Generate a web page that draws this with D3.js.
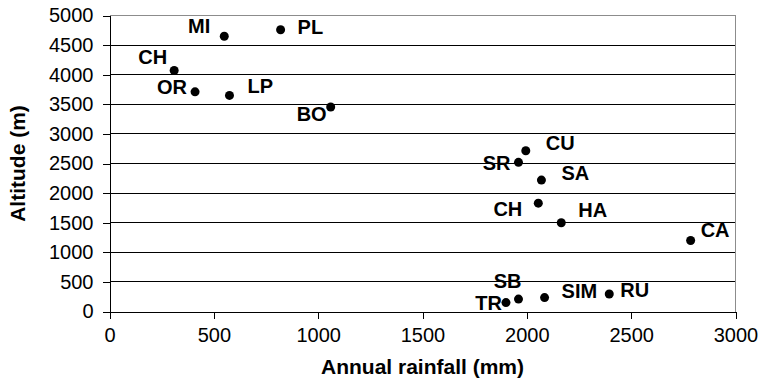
<!DOCTYPE html>
<html>
<head>
<meta charset="utf-8">
<script src="https://cdn.jsdelivr.net/npm/d3@7"></script>
<style>
  body { margin: 0; background: #fff; }
  svg text { font-family: Arial, "Liberation Sans", sans-serif; fill: #000; }
  .tick text { font-size: 20px; }
  .ptLabel { font-size: 20px; font-weight: bold; }
  .axisTitle { font-size: 21px; font-weight: bold; }
</style>
</head>
<body>
<div class="chart"></div>
<script>
// site codes, rainfall (mm) and altitude (m)
var sites = ["MI", "PL", "CH", "OR", "LP", "BO", "CU", "SR", "SA", "CH", "HA", "CA", "SB", "TR", "SIM", "RU"];
var rainfall = [550, 820, 310, 410, 575, 1060, 1995, 1960, 2070, 2055, 2165, 2785, 1960, 1900, 2085, 2395];
var altitude = [4650, 4760, 4070, 3710, 3650, 3455, 2715, 2520, 2220, 1830, 1500, 1200, 210, 150, 235, 295];
var xTicks = [0, 500, 1000, 1500, 2000, 2500, 3000];
var yTicks = [0, 500, 1000, 1500, 2000, 2500, 3000, 3500, 4000, 4500, 5000];

// label placement next to each dot: [anchor, dx, dy]
var labelPlace = [
  ["end", -14, -3], ["start", 17, 4], ["end", -7, -7], ["end", -8, 2],
  ["start", 18, -2], ["end", -4, 14], ["start", 20, -1], ["end", -8, 8],
  ["start", 20, 0], ["end", -16, 13], ["start", 17, -6], ["start", 10, -3],
  ["end", 3, -11], ["end", -4, 7], ["start", 17, 0], ["start", 11, 3]
];

var svgWidth = 761;
var svgHeight = 380;

var margin = { top: 15.5, right: 25.5, bottom: 68.5, left: 109.5 };
var width = svgWidth - margin.left - margin.right;
var height = svgHeight - margin.top - margin.bottom;

var svg = d3.select(".chart")
  .append("svg")
  .attr("width", svgWidth)
  .attr("height", svgHeight);

var chartGroup = svg.append("g")
  .attr("transform", `translate(${margin.left}, ${margin.top})`);

var data = sites.map(function (s, i) {
  return { site: s, rain: rainfall[i], alt: altitude[i], place: labelPlace[i] };
});

var xLinearScale = d3.scaleLinear().domain([0, 3000]).range([0, width]);
var yLinearScale = d3.scaleLinear().domain([0, 5000]).range([height, 0]);

// gridlines
chartGroup.selectAll(".grid")
  .data(yTicks.slice(1, -1))
  .enter()
  .append("line")
  .attr("x1", 0)
  .attr("x2", width)
  .attr("y1", d => yLinearScale(d))
  .attr("y2", d => yLinearScale(d))
  .attr("stroke", "#000")
  .attr("shape-rendering", "crispEdges");

// plot border (top and right in grey)
chartGroup.append("path")
  .attr("d", `M0,0H${width}V${height}`)
  .attr("fill", "none")
  .attr("stroke", "#8c8c8c")
  .attr("shape-rendering", "crispEdges");

var bottomAxis = d3.axisBottom(xLinearScale)
  .tickValues(xTicks)
  .tickFormat(d3.format("d"))
  .tickSize(7)
  .tickSizeOuter(0)
  .tickPadding(9);

var leftAxis = d3.axisLeft(yLinearScale)
  .tickValues(yTicks)
  .tickFormat(d3.format("d"))
  .tickSize(7)
  .tickSizeOuter(0)
  .tickPadding(9);

var xAxisG = chartGroup.append("g")
  .attr("transform", `translate(0, ${height})`)
  .call(bottomAxis);

var yAxisG = chartGroup.append("g")
  .call(leftAxis);

[xAxisG, yAxisG].forEach(function (g) {
  g.attr("font-family", null).attr("font-size", null);
  g.selectAll("path, line").attr("stroke", "#000").attr("shape-rendering", "crispEdges");
});

// points
chartGroup.selectAll("circle")
  .data(data)
  .enter()
  .append("circle")
  .attr("cx", d => xLinearScale(d.rain))
  .attr("cy", d => yLinearScale(d.alt))
  .attr("r", 4.5)
  .attr("fill", "#000");

// site labels
chartGroup.selectAll(".ptLabel")
  .data(data)
  .enter()
  .append("text")
  .attr("class", "ptLabel")
  .attr("text-anchor", d => d.place[0])
  .attr("x", d => xLinearScale(d.rain) + d.place[1])
  .attr("y", d => yLinearScale(d.alt) + d.place[2])
  .text(d => d.site);

// axis titles
chartGroup.append("text")
  .attr("class", "axisTitle")
  .attr("text-anchor", "middle")
  .attr("transform", `translate(${-margin.left + 25}, ${height / 2}) rotate(-90)`)
  .text("Altitude (m)");

chartGroup.append("text")
  .attr("class", "axisTitle")
  .attr("text-anchor", "middle")
  .attr("x", width / 2)
  .attr("y", height + 62)
  .text("Annual rainfall (mm)");
</script>
</body>
</html>
